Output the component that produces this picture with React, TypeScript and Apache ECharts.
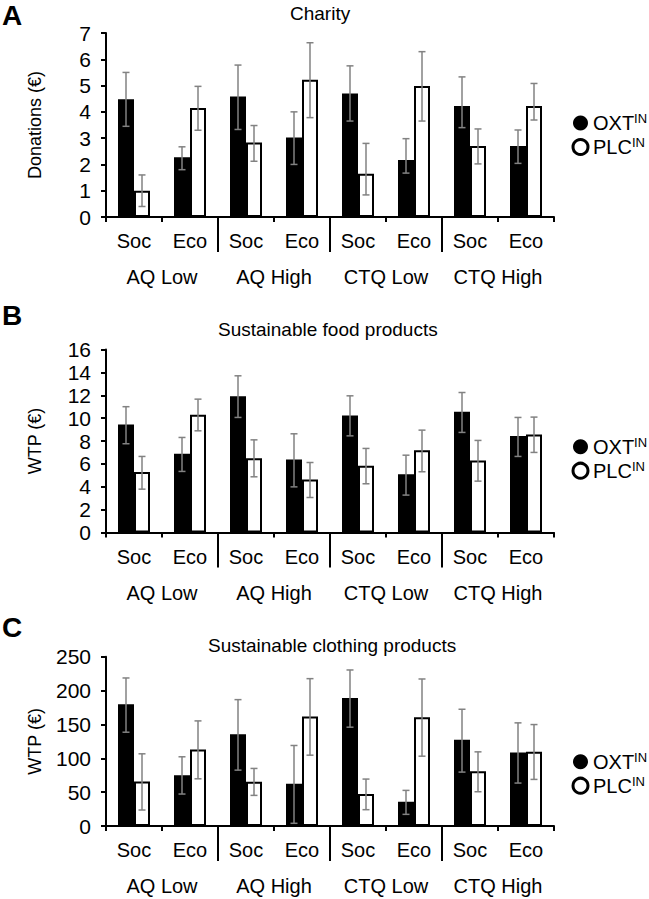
import React, { useEffect, useRef } from 'react';
import * as echarts from 'echarts';

// ---- categories ----
const subCategories = ['Soc', 'Eco'];
const groups = ['AQ Low', 'AQ High', 'CTQ Low', 'CTQ High'];
const seriesNames = ['OXT', 'PLC'];

// ---- Panel A: Charity (Donations €) ----
const charityOXT = [4.48, 2.27, 4.58, 3.02, 4.70, 2.17, 4.22, 2.70];
const charityOXTLow = [3.45, 1.80, 3.33, 2.00, 3.65, 1.67, 3.40, 2.04];
const charityOXTHigh = [5.50, 2.67, 5.78, 4.00, 5.75, 2.98, 5.33, 3.31];
const charityPLC = [1.00, 4.15, 2.83, 5.22, 1.65, 4.98, 2.70, 4.22];
const charityPLCLow = [0.40, 3.30, 2.12, 3.78, 0.84, 3.65, 2.02, 3.69];
const charityPLCHigh = [1.60, 4.97, 3.48, 6.63, 2.80, 6.29, 3.35, 5.08];

// ---- Panel B: Sustainable food products (WTP €) ----
const foodOXT = [9.45, 6.88, 11.92, 6.38, 10.23, 5.10, 10.55, 8.43];
const foodOXTLow = [7.76, 5.34, 10.06, 3.99, 8.45, 3.27, 8.75, 6.65];
const foodOXTHigh = [11.0, 8.31, 13.7, 8.63, 11.95, 6.76, 12.24, 10.06];
const foodPLC = [5.28, 10.29, 6.50, 4.64, 5.83, 7.20, 6.30, 8.57];
const foodPLCLow = [3.79, 8.89, 4.87, 3.06, 4.26, 5.31, 4.49, 7.0];
const foodPLCHigh = [6.65, 11.66, 8.10, 6.12, 7.35, 8.95, 8.05, 10.09];

// ---- Panel C: Sustainable clothing products (WTP €) ----
const clothOXT = [179.8, 75.1, 135.6, 62.4, 189, 35.9, 127.2, 108.5];
const clothOXTLow = [138.5, 47.2, 82.5, 4, 145.9, 17.2, 79.6, 63.4];
const clothOXTHigh = [218.6, 102.2, 186.6, 118.9, 230.4, 52.6, 172.4, 152.3];
const clothPLC = [65.8, 113, 65.3, 161.6, 47.2, 160.6, 81, 109.5];
const clothPLCLow = [23.6, 69.7, 45.2, 104.6, 24.1, 103.1, 50.6, 68.8];
const clothPLCHigh = [106.6, 155.2, 85, 217.6, 69.3, 217.1, 109.5, 149.8];

// ---- axis settings ----
const panelLetters = ['A', 'B', 'C'];
const panelTitles = ['Charity', 'Sustainable food products', 'Sustainable clothing products'];
const yNames = ['Donations (€)', 'WTP (€)', 'WTP (€)'];
const yMaxes = [7, 16, 250];
const yIntervals = [1, 2, 50];

const panelData = [
  { oxt: charityOXT, oxtLow: charityOXTLow, oxtHigh: charityOXTHigh, plc: charityPLC, plcLow: charityPLCLow, plcHigh: charityPLCHigh },
  { oxt: foodOXT, oxtLow: foodOXTLow, oxtHigh: foodOXTHigh, plc: foodPLC, plcLow: foodPLCLow, plcHigh: foodPLCHigh },
  { oxt: clothOXT, oxtLow: clothOXTLow, oxtHigh: clothOXTHigh, plc: clothPLC, plcLow: clothPLCLow, plcHigh: clothPLCHigh },
];

// ---- layout (styles only) ----
const FONT = '"Liberation Sans", Arial, Helvetica, sans-serif';
const GRID_LEFT = 106;
const GRID_WIDTH = 448;
const gridTops = [33, 349.5, 656.7];
const gridHeights = [184, 183, 169.3];
const letterTops = [1, 301, 613.5];
const titleLefts = [290, 218, 208];
const titleTops = [3.8, 319.8, 635.5];
const legendTops = [112, 435.7, 750.7];
const BAR_W = 16;
const SEP_LEN = 35;

const categories: string[] = [];
groups.forEach((g) => subCategories.forEach((s) => categories.push(g + '|' + s)));

function errRender(offset: number) {
  return (params: any, api: any) => {
    const idx = api.value(0);
    const lo = api.coord([idx, api.value(1)]);
    const hi = api.coord([idx, api.value(2)]);
    const x = lo[0] + offset;
    const cap = 3.5;
    const style = { stroke: '#828282', lineWidth: 1.5 };
    return {
      type: 'group',
      children: [
        { type: 'line', shape: { x1: x, y1: lo[1], x2: x, y2: hi[1] }, style },
        { type: 'line', shape: { x1: x - cap, y1: lo[1], x2: x + cap, y2: lo[1] }, style },
        { type: 'line', shape: { x1: x - cap, y1: hi[1], x2: x + cap, y2: hi[1] }, style },
      ],
    };
  };
}

export default function App() {
  const ref = useRef<HTMLDivElement>(null);
  useEffect(() => {
    if (!ref.current) return;
    const chart = echarts.init(ref.current, undefined, { renderer: 'svg' });

    const grid: any[] = [];
    const xAxis: any[] = [];
    const yAxis: any[] = [];
    const series: any[] = [];
    const title: any[] = [];
    const legend: any[] = [];

    for (let k = 0; k < 3; k++) {
      grid.push({ left: GRID_LEFT, width: GRID_WIDTH, top: gridTops[k], height: gridHeights[k] });
      xAxis.push({
        type: 'category',
        gridIndex: k,
        data: categories,
        position: 'bottom',
        axisLine: { show: true, lineStyle: { color: '#000', width: 2 } },
        axisTick: { show: true, interval: 0, length: 5, lineStyle: { color: '#000', width: 2 } },
        axisLabel: {
          interval: 0,
          margin: 14,
          fontSize: 20,
          color: '#000',
          fontFamily: FONT,
          formatter: (v: string) => v.split('|')[1],
        },
        splitLine: { show: false },
      });
      xAxis.push({
        type: 'category',
        gridIndex: k,
        data: groups,
        position: 'bottom',
        axisLine: { show: false },
        axisTick: { show: false },
        axisLabel: { interval: 0, margin: 50, fontSize: 20, color: '#000', fontFamily: FONT },
        splitLine: { show: false },
      });
      yAxis.push({
        type: 'value',
        gridIndex: k,
        min: 0,
        max: yMaxes[k],
        interval: yIntervals[k],
        name: yNames[k],
        nameLocation: 'middle',
        nameGap: 62,
        nameTextStyle: { fontSize: 18, color: '#000', fontFamily: FONT },
        axisLine: { show: true, lineStyle: { color: '#000', width: 2 } },
        axisTick: { show: true, length: 5, lineStyle: { color: '#000', width: 2 } },
        axisLabel: { fontSize: 21, color: '#000', margin: 15, fontFamily: FONT },
        splitLine: { show: false },
      });

      const d = panelData[k];
      series.push({
        name: seriesNames[0],
        type: 'bar',
        xAxisIndex: 2 * k,
        yAxisIndex: k,
        data: d.oxt,
        barWidth: BAR_W,
        barGap: '0%',
        itemStyle: { color: '#000', borderColor: '#000', borderWidth: 2 },
      });
      series.push({
        name: seriesNames[1],
        type: 'bar',
        xAxisIndex: 2 * k,
        yAxisIndex: k,
        data: d.plc,
        barWidth: BAR_W,
        barGap: '0%',
        itemStyle: { color: '#fff', borderColor: '#000', borderWidth: 2 },
      });
      series.push({
        name: 'OXT error',
        type: 'custom',
        xAxisIndex: 2 * k,
        yAxisIndex: k,
        z: 5,
        renderItem: errRender(-BAR_W / 2),
        encode: { x: 0, y: [1, 2] },
        data: d.oxt.map((_, i) => [i, d.oxtLow[i], d.oxtHigh[i]]),
      });
      series.push({
        name: 'PLC error',
        type: 'custom',
        xAxisIndex: 2 * k,
        yAxisIndex: k,
        z: 5,
        renderItem: errRender(BAR_W / 2),
        encode: { x: 0, y: [1, 2] },
        data: d.plc.map((_, i) => [i, d.plcLow[i], d.plcHigh[i]]),
      });

      title.push({
        text: panelLetters[k],
        left: 2,
        top: letterTops[k],
        padding: 0,
        textStyle: { fontSize: 28, fontWeight: 'bold', color: '#000', fontFamily: FONT },
      });
      title.push({
        text: panelTitles[k],
        left: titleLefts[k],
        top: titleTops[k],
        padding: 0,
        textStyle: { fontSize: 19, fontWeight: 'normal', color: '#000', fontFamily: FONT },
      });

      legend.push({
        orient: 'vertical',
        left: 571.5,
        top: legendTops[k],
        padding: 0,
        itemGap: 3,
        itemWidth: 15,
        itemHeight: 15,
        selectedMode: false,
        formatter: (name: string) => '{a|' + name + '}{s|IN}',
        textStyle: {
          fontFamily: FONT,
          color: '#000',
          rich: {
            a: { fontSize: 20, lineHeight: 22, fontFamily: FONT, color: '#000' },
            s: { fontSize: 13, lineHeight: 13, verticalAlign: 'top', fontFamily: FONT, color: '#000' },
          },
        },
        data: [
          { name: seriesNames[0], icon: 'circle', itemStyle: { color: '#000', borderWidth: 0 } },
          { name: seriesNames[1], icon: 'circle', itemStyle: { color: '#fff', borderColor: '#000', borderWidth: 3 } },
        ],
      });
    }

    chart.setOption({
      animation: false,
      backgroundColor: '#fff',
      textStyle: { fontFamily: FONT },
      title,
      legend,
      grid,
      xAxis,
      yAxis,
      series,
    });

    // group separators at boundaries between the four groups, via the library's scales
    const graphic: any[] = [];
    for (let k = 0; k < 3; k++) {
      const y0 = chart.convertToPixel({ yAxisIndex: k } as any, 0) as number;
      for (let g = 1; g < groups.length; g++) {
        const b = g * subCategories.length;
        const xa = chart.convertToPixel({ xAxisIndex: 2 * k } as any, b - 1) as number;
        const xb = chart.convertToPixel({ xAxisIndex: 2 * k } as any, b) as number;
        const x = (xa + xb) / 2;
        graphic.push({
          type: 'line',
          shape: { x1: x, y1: y0, x2: x, y2: y0 + SEP_LEN },
          style: { stroke: '#000', lineWidth: 2 },
          silent: true,
        });
      }
    }
    chart.setOption({ graphic });

    return () => chart.dispose();
  }, []);

  return (
    <div
      ref={ref}
      style={{ position: 'absolute', left: 0, top: 0, width: 649, height: 899, background: '#fff' }}
    />
  );
}
